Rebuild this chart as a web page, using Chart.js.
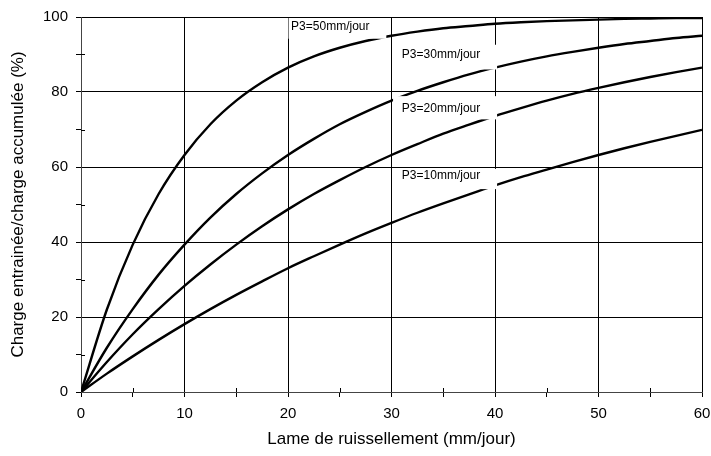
<!DOCTYPE html>
<html>
<head>
<meta charset="utf-8">
<script src="https://cdn.jsdelivr.net/npm/chart.js@4"></script>
<style>
  html, body { margin: 0; padding: 0; background: #fff; }
  #wrap { width: 711px; height: 456px; }
</style>
</head>
<body>
<div id="wrap"><canvas id="chart"></canvas></div>
<script>
// Lame de ruissellement (mm/jour)
const xValues = [0, 2.5, 5, 7.5, 10, 12.5, 15, 17.5, 20, 22.5, 25, 27.5, 30,
                 32.5, 35, 37.5, 40, 42.5, 45, 47.5, 50, 52.5, 55, 57.5, 60];

// Charge entrainée / charge accumulée (%) for each P3
const p3_50 = [0, 22, 39.3, 52.8, 63.2, 71.4, 77.7, 82.6, 86.5, 89.5, 91.8, 93.6, 95,
               96.1, 97, 97.6, 98.2, 98.6, 98.9, 99.1, 99.3, 99.5, 99.6, 99.7, 99.75];
const p3_30 = [0, 11.8, 22.1, 31.3, 39.3, 46.5, 52.8, 58.3, 63.2, 67.5, 71.4, 74.7, 77.7,
               80.3, 82.6, 84.7, 86.5, 88.1, 89.5, 90.7, 91.8, 92.8, 93.6, 94.4, 95];
const p3_20 = [0, 8, 15.4, 22.1, 28.3, 34, 39.3, 44.2, 48.7, 52.8, 56.5, 60, 63.2,
               66.1, 68.9, 71.3, 73.6, 75.7, 77.7, 79.5, 81.1, 82.6, 84, 85.3, 86.5];
const p3_10 = [0, 4.9, 9.5, 13.9, 18.1, 22.1, 25.9, 29.5, 33, 36.2, 39.3, 42.3, 45.1,
               47.8, 50.3, 52.7, 55.1, 57.3, 59.3, 61.3, 63.2, 65, 66.7, 68.3, 69.9];

const seriesNames = ['P3=50mm/jour', 'P3=30mm/jour', 'P3=20mm/jour', 'P3=10mm/jour'];
const seriesValues = [p3_50, p3_30, p3_20, p3_10];

// label boxes (in data units): x1, x2, yTop, yBottom, text x, text y
const labelBoxes = [
  [20.05, 29.5, 100, 94.2, 20.3, 97.3],
  [30.15, 40.2, 92.6, 86.0, 31.0, 89.9],
  [30.15, 40.2, 78.9, 72.7, 31.0, 75.6],
  [30.15, 40.2, 59.5, 54.1, 31.0, 57.8]
];

const FONT = "'Liberation Sans', Arial, sans-serif";

const datasets = seriesValues.map((vals, i) => ({
  label: seriesNames[i],
  data: xValues.map((x, j) => ({ x: x, y: vals[j] })),
  borderColor: '#000',
  borderWidth: 2.4,
  pointRadius: 0,
  fill: false,
  cubicInterpolationMode: 'monotone'
}));

// white boxes with the P3 labels, drawn over the curves and grid
const curveLabels = {
  id: 'curveLabels',
  afterDatasetsDraw(chart) {
    const ctx = chart.ctx;
    const xs = chart.scales.x, ys = chart.scales.y;
    ctx.save();
    // minor tick marks reaching into the plot
    ctx.strokeStyle = '#000';
    ctx.lineWidth = 1;
    ctx.beginPath();
    for (let v = 5; v < 60; v += 10) {
      const px = Math.round(xs.getPixelForValue(v)) + 0.5;
      ctx.moveTo(px, ys.bottom);
      ctx.lineTo(px, ys.bottom - 4);
    }
    for (let v = 10; v < 100; v += 20) {
      const py = Math.round(ys.getPixelForValue(v)) + 0.5;
      ctx.moveTo(xs.left, py);
      ctx.lineTo(xs.left + 4, py);
    }
    ctx.stroke();

    ctx.font = '12px ' + FONT;
    ctx.textBaseline = 'middle';
    ctx.textAlign = 'left';
    labelBoxes.forEach((b, i) => {
      const x1 = xs.getPixelForValue(b[0]);
      const x2 = xs.getPixelForValue(b[1]);
      const y1 = ys.getPixelForValue(b[2]);
      const y2 = ys.getPixelForValue(b[3]);
      ctx.fillStyle = '#fff';
      ctx.fillRect(x1, y1 + (i === 0 ? 1 : 0), x2 - x1, y2 - y1 - (i === 0 ? 1 : 0));
      ctx.fillStyle = '#000';
      ctx.fillText(seriesNames[i], xs.getPixelForValue(b[4]), ys.getPixelForValue(b[5]));
    });
    ctx.restore();
  }
};

new Chart(document.getElementById('chart'), {
  type: 'line',
  data: { datasets: datasets },
  options: {
    responsive: true,
    maintainAspectRatio: false,
    animation: false,
    layout: { padding: { left: 8, top: 15, right: 9, bottom: 6 } },
    plugins: {
      legend: { display: false },
      tooltip: { enabled: false }
    },
    scales: {
      x: {
        type: 'linear',
        min: 0,
        max: 60,
        afterFit: (scale) => { scale.height = 58; scale.paddingRight = 0; },
        ticks: {
          stepSize: 5,
          autoSkip: false,
          maxRotation: 0,
          padding: 8,
          color: '#000',
          font: { family: FONT, size: 15 },
          callback: (v) => (v % 10 === 0 ? v : '')
        },
        grid: {
          color: (c) => (c.tick && c.tick.value % 10 === 0 ? '#000' : 'rgba(0,0,0,0)'),
          tickColor: '#000',
          tickLength: 5,
          lineWidth: 1
        },
        border: { color: '#444', width: 1 },
        title: {
          display: true,
          text: 'Lame de ruissellement (mm/jour)',
          color: '#000',
          font: { family: FONT, size: 17 },
          padding: { top: 0, bottom: 0 }
        }
      },
      y: {
        min: 0,
        max: 100,
        afterFit: (scale) => { scale.width = 73; },
        ticks: {
          stepSize: 10,
          autoSkip: false,
          padding: 8,
          color: '#000',
          font: { family: FONT, size: 15 },
          callback: (v) => (v % 20 === 0 ? v : '')
        },
        grid: {
          color: (c) => (c.tick && c.tick.value % 20 === 0 ? '#000' : 'rgba(0,0,0,0)'),
          tickColor: '#000',
          tickLength: 5,
          lineWidth: 1
        },
        border: { color: '#444', width: 1 },
        title: {
          display: true,
          text: 'Charge entrainée/charge accumulée (%)',
          color: '#000',
          font: { family: FONT, size: 17 },
          padding: { top: 0, bottom: 2 }
        }
      }
    }
  },
  plugins: [curveLabels]
});
</script>
</body>
</html>
